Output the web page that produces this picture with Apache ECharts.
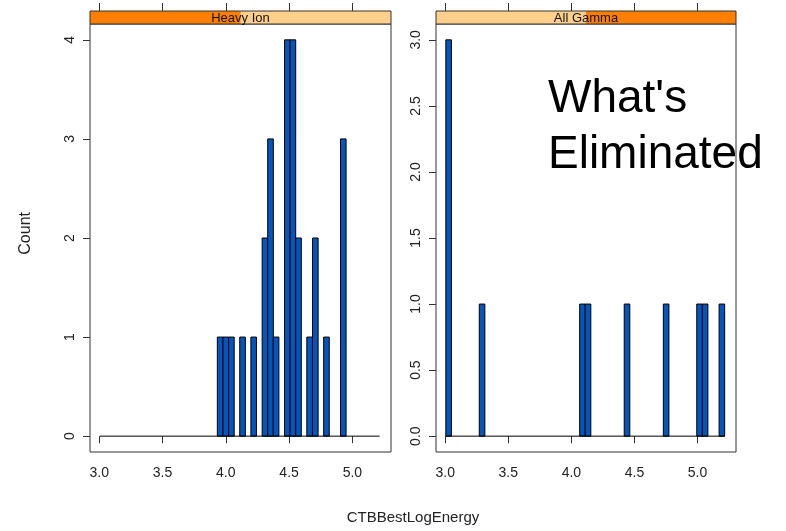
<!DOCTYPE html>
<html>
<head>
<meta charset="utf-8">
<script src="https://cdn.jsdelivr.net/npm/echarts@6/dist/echarts.min.js"></script>
<style>
html, body { margin: 0; padding: 0; background: #fff; }
#chart { width: 786px; height: 531px; }
</style>
</head>
<body>
<div id="chart"></div>
<script>
// histogram bins (left edge of each non-empty bin + count)
var binWidth = 0.0442;
var heavyIonStart = [3.933, 3.977, 4.022, 4.110, 4.198, 4.287, 4.331, 4.375, 4.464, 4.508, 4.552, 4.640, 4.685, 4.773, 4.906];
var heavyIonCount = [1, 1, 1, 1, 1, 2, 3, 1, 4, 4, 2, 1, 2, 1, 3];
var gammaStart = [3.005, 3.270, 4.066, 4.110, 4.419, 4.729, 4.994, 5.038, 5.171];
var gammaCount = [3, 1, 1, 1, 1, 1, 1, 1, 1];
var breaksRange = [3.005, 5.215];

var xTicks = [3.0, 3.5, 4.0, 4.5, 5.0];
var heavyIonYTicks = [0, 1, 2, 3, 4];
var gammaYTicks = [0, 0.5, 1.0, 1.5, 2.0, 2.5, 3.0];

var fontFam = 'Liberation Sans, Arial, sans-serif';
var barColor = '#0455BC';
var stripOrange = '#FF8000';
var stripPeach = '#FFD08C';

var chart = echarts.init(document.getElementById('chart'));

function zip(a, b) {
    return a.map(function (v, i) { return [v, b[i]]; });
}

function renderBar(params, api) {
    var x0 = api.value(0);
    var h = api.value(1);
    var p0 = api.coord([x0, h]);
    var p1 = api.coord([x0 + binWidth, 0]);
    return {
        type: 'rect',
        shape: { x: p0[0], y: p0[1], width: p1[0] - p0[0], height: p1[1] - p0[1] },
        style: { fill: barColor, stroke: '#000', lineWidth: 1 }
    };
}

function bottomAxis(grid) {
    return {
        type: 'value', gridIndex: grid, min: 2.927, max: 5.305,
        splitLine: { show: false },
        axisLine: { show: false },
        axisTick: { show: true, length: 7, lineStyle: { color: '#333' }, customValues: xTicks },
        axisLabel: {
            color: '#222', fontSize: 14, fontFamily: fontFam, margin: 14,
            customValues: xTicks,
            formatter: function (v) { return v.toFixed(1); }
        }
    };
}

function topAxis(grid) {
    return {
        type: 'value', gridIndex: grid, position: 'top', offset: 13,
        min: 2.927, max: 5.305,
        splitLine: { show: false },
        axisLine: { show: false },
        axisTick: { show: true, length: 8, lineStyle: { color: '#333' }, customValues: xTicks },
        axisLabel: { show: false }
    };
}

function leftAxis(grid, lo, hi, ticks, digits) {
    return {
        type: 'value', gridIndex: grid, min: lo, max: hi,
        splitLine: { show: false },
        axisLine: { show: false },
        axisTick: { show: true, length: 7, lineStyle: { color: '#333' }, customValues: ticks },
        axisLabel: {
            color: '#222', fontSize: 14, fontFamily: fontFam, margin: 13, rotate: 90,
            customValues: ticks,
            formatter: function (v) { return v.toFixed(digits); }
        }
    };
}

function strip(x, w, orangeFrom, orangeTo, label) {
    return [{
        type: 'rect',
        shape: { x: x, y: 11, width: w, height: 13 },
        style: { fill: stripPeach, stroke: 'none' }
    }, {
        type: 'rect',
        shape: { x: x + w * orangeFrom, y: 11, width: w * (orangeTo - orangeFrom), height: 13 },
        style: { fill: stripOrange, stroke: 'none' }
    }, {
        type: 'rect',
        shape: { x: x, y: 11, width: w, height: 13 },
        style: { fill: 'none', stroke: '#333', lineWidth: 1 }
    }, {
        type: 'text', x: x + w / 2, y: 18,
        style: {
            text: label, fill: '#111', font: '13px ' + fontFam,
            textAlign: 'center', textVerticalAlign: 'middle'
        }
    }];
}

var option = {
    backgroundColor: '#fff',
    animation: false,
    grid: [
        { left: 90, top: 24, width: 301, height: 428, show: true, borderColor: '#333', borderWidth: 1, backgroundColor: '#fff' },
        { left: 436, top: 24, width: 300, height: 428, show: true, borderColor: '#333', borderWidth: 1, backgroundColor: '#fff' }
    ],
    xAxis: [bottomAxis(0), bottomAxis(1), topAxis(0), topAxis(1)],
    yAxis: [
        leftAxis(0, -0.16, 4.16, heavyIonYTicks, 0),
        leftAxis(1, -0.12, 3.12, gammaYTicks, 1)
    ],
    graphic: []
        .concat(strip(90, 301, 0, 0.5, 'Heavy Ion'))
        .concat(strip(436, 300, 0.5, 1, 'All Gamma'))
        .concat([{
            type: 'text', left: 18, top: 212, rotation: Math.PI / 2,
            style: { text: 'Count', fill: '#222', font: '16px ' + fontFam }
        }, {
            type: 'text', x: 413, y: 518,
            style: { text: 'CTBBestLogEnergy', fill: '#222', font: '15px ' + fontFam, textAlign: 'center', textVerticalAlign: 'middle' }
        }, {
            type: 'text', x: 548, y: 99, z: 100,
            style: { text: "What's", fill: '#000', font: '46px ' + fontFam, textVerticalAlign: 'middle' }
        }, {
            type: 'text', x: 548, y: 155, z: 100,
            style: { text: 'Eliminated', fill: '#000', font: '46px ' + fontFam, textVerticalAlign: 'middle' }
        }]),
    series: [{
        type: 'line', xAxisIndex: 0, yAxisIndex: 0, symbol: 'none',
        lineStyle: { color: '#000', width: 1 },
        data: [[breaksRange[0], 0], [breaksRange[1], 0]]
    }, {
        type: 'line', xAxisIndex: 1, yAxisIndex: 1, symbol: 'none',
        lineStyle: { color: '#000', width: 1 },
        data: [[breaksRange[0], 0], [breaksRange[1], 0]]
    }, {
        type: 'custom', xAxisIndex: 0, yAxisIndex: 0,
        renderItem: renderBar, encode: { x: 0, y: 1 },
        data: zip(heavyIonStart, heavyIonCount)
    }, {
        type: 'custom', xAxisIndex: 1, yAxisIndex: 1,
        renderItem: renderBar, encode: { x: 0, y: 1 },
        data: zip(gammaStart, gammaCount)
    }]
};

chart.setOption(option);
</script>
</body>
</html>
